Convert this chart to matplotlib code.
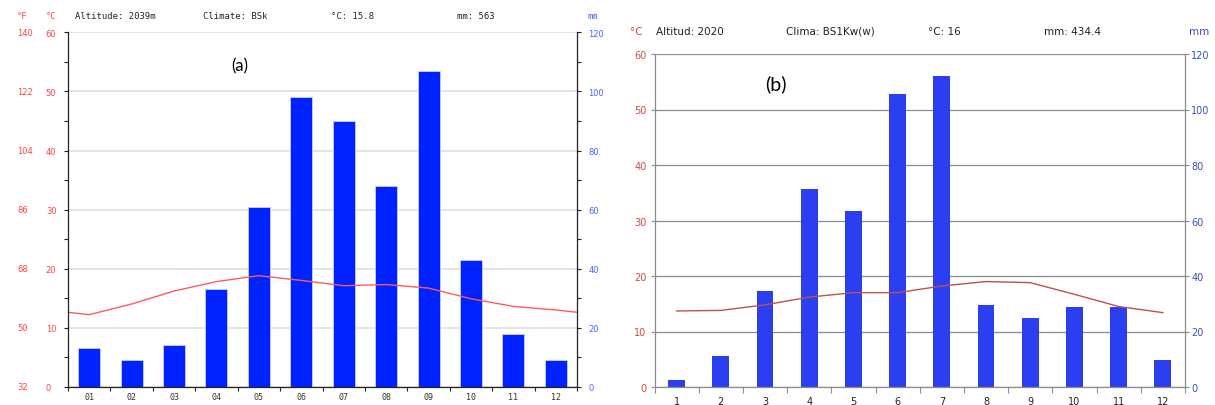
import numpy as np
import matplotlib.pyplot as plt
from matplotlib import transforms
from matplotlib.ticker import MultipleLocator

# Station (a): monthly precipitation (mm) and mean temperature (°C)
months_a = ['01', '02', '03', '04', '05', '06', '07', '08', '09', '10', '11', '12']
precip_a = [13, 9, 14, 33, 61, 98, 90, 68, 107, 43, 18, 9]
temp_a = [12.2, 14.0, 16.2, 17.8, 18.8, 18.0, 17.1, 17.3, 16.7, 14.9, 13.6, 13.0]
header_a = ['Altitude: 2039m', 'Climate: BSk', '°C: 15.8', 'mm: 563']

# Station (b)
months_b = ['1', '2', '3', '4', '5', '6', '7', '8', '9', '10', '11', '12']
precip_b = [2.4, 11, 34.5, 71.4, 63.3, 105.5, 111.9, 29.4, 25, 28.7, 28.7, 9.9]
temp_b = [13.7, 13.8, 14.8, 16.2, 17.0, 17.0, 18.2, 19.0, 18.8, 16.7, 14.5, 13.4]
header_b = ['Altitud: 2020', 'Clima: BS1Kw(w)', '°C: 16', 'mm: 434.4']

temp_ticks = [0, 10, 20, 30, 40, 50, 60]
precip_ticks = [0, 20, 40, 60, 80, 100, 120]

W, H = 1215, 406
fig = plt.figure(figsize=(W / 100, H / 100), dpi=100)
fig.patch.set_facecolor('white')


def box(x0, y0, x1, y1):
    # pixel box (top-left origin) -> figure fraction rect
    return [x0 / W, 1 - y1 / H, (x1 - x0) / W, (y1 - y0) / H]


def px_pt(p):
    return p * 72 / 100


# ---------------- panel (a) ----------------
ax = fig.add_axes(box(68, 33.4, 577, 387.7))
axp = ax.twinx()
ax.set_zorder(axp.get_zorder() + 1)
ax.patch.set_visible(False)

x = np.arange(12)
axp.bar(x, precip_a, width=0.52, color='#0022ff', edgecolor='#c8d0ff', linewidth=0.6, zorder=2)
axp.set_ylim(0, 120)
axp.set_yticks(precip_ticks)
axp.yaxis.set_minor_locator(MultipleLocator(10))
axp.grid(axis='y', which='major', color='#e2e2e2', lw=1.3, zorder=0)
axp.set_axisbelow(True)
axp.tick_params(axis='y', which='both', length=3, width=0.8, color='#222222',
                labelcolor='#4466ff', labelsize=6, pad=px_pt(7))

# line runs to the plot edges using the Dec/Jan mean
edge = (temp_a[0] + temp_a[-1]) / 2
ax.plot([-0.5] + list(x) + [11.5], [edge] + temp_a + [edge], color='#ff5a5a', lw=1.0)
ax.set_ylim(0, 60)
ax.set_xlim(-0.5, 11.5)
ax.set_yticks(temp_ticks)
ax.yaxis.set_minor_locator(MultipleLocator(5))
ax.tick_params(axis='y', which='both', length=3, width=0.8, color='#222222',
               labelcolor='#ff4444', labelsize=6, pad=px_pt(18))
for lab in ax.get_yticklabels():
    lab.set_horizontalalignment('left')
ax.set_xticks(x, months_a)
ax.set_xticks(np.arange(-0.5, 12, 1), minor=True)
ax.tick_params(axis='x', which='major', length=0, labelsize=6, labelcolor='#333333', pad=px_pt(5))
ax.tick_params(axis='x', which='minor', length=3, width=0.8, color='#222222')
for lab in ax.get_xticklabels():
    lab.set_family('DejaVu Sans Mono')

for a in (ax, axp):
    a.spines['top'].set_visible(False)
ax.spines['right'].set_visible(False)
axp.spines['left'].set_visible(False)
axp.spines['bottom'].set_visible(False)
for s in ('left', 'bottom'):
    ax.spines[s].set_color('#222222')
    ax.spines[s].set_linewidth(0.9)
axp.spines['right'].set_color('#222222')
axp.spines['right'].set_linewidth(0.9)

# Fahrenheit column
tf = transforms.blended_transform_factory(fig.transFigure, ax.transData)
for c in temp_ticks:
    ax.text(17 / W, c, f'{c * 9 / 5 + 32:.0f}', transform=tf, ha='left', va='center',
            color='#ff4444', fontsize=6, clip_on=False)

hy = 1 - 16.7 / H
mono = 'DejaVu Sans Mono'
fig.text(17 / W, hy, '°F', color='#ff4444', fontsize=6.2, family=mono, va='center')
fig.text(46 / W, hy, '°C', color='#ff4444', fontsize=6.2, family=mono, va='center')
for xp, s in zip([75, 203, 331, 457], header_a):
    fig.text(xp / W, hy, s, color='#222222', fontsize=6.4, family=mono, va='center')
fig.text(587 / W, hy, 'mm', color='#4466ff', fontsize=6.2, family=mono, va='center')
fig.text(240 / W, 1 - 66 / H, '(a)', ha='center', va='center', fontsize=12, family='Lato')

# ---------------- panel (b) ----------------
bx = fig.add_axes(box(654.5, 55, 1185, 388))
bxp = bx.twinx()
bx.set_zorder(bxp.get_zorder() + 1)
bx.patch.set_visible(False)

bxp.bar(x, precip_b, width=0.38, color='#2b3ef0', zorder=2)
bxp.set_ylim(0, 120)
bxp.set_yticks(precip_ticks)
bxp.grid(axis='y', color='#8c8c8c', lw=0.9, zorder=0)
bxp.set_axisbelow(True)
bxp.tick_params(axis='y', length=3, width=0.8, color='#8c8c8c',
                labelcolor='#3a50b0', labelsize=7, pad=px_pt(2))

bx.plot(x, temp_b, color='#c0504d', lw=1.0)
bx.set_ylim(0, 60)
bx.set_xlim(-0.5, 11.5)
bx.set_yticks(temp_ticks)
bx.tick_params(axis='y', length=3, width=0.8, color='#8c8c8c',
               labelcolor='#d04a44', labelsize=7, pad=px_pt(4))
bx.set_xticks(x, months_b)
bx.set_xticks(np.arange(-0.5, 12, 1), minor=True)
bx.tick_params(axis='x', which='major', length=0, labelsize=7, labelcolor='#222222', pad=px_pt(9))
bx.tick_params(axis='x', which='minor', length=4, width=0.8, color='#8c8c8c')

for a in (bx, bxp):
    a.spines['top'].set_visible(False)
bx.spines['right'].set_visible(False)
bxp.spines['left'].set_visible(False)
bxp.spines['bottom'].set_visible(False)
for s in ('left', 'bottom'):
    bx.spines[s].set_color('#8c8c8c')
    bx.spines[s].set_linewidth(0.9)
bxp.spines['right'].set_color('#8c8c8c')
bxp.spines['right'].set_linewidth(0.9)

hy2 = 1 - 32 / H
fig.text(630 / W, hy2, '°C', color='#d04a44', fontsize=7.5, va='center')
for xp, s in zip([656, 786, 928, 1044], header_b):
    fig.text(xp / W, hy2, s, color='#222222', fontsize=7.5, va='center')
fig.text(1189 / W, hy2, 'mm', color='#3a50b0', fontsize=7.5, va='center')
fig.text(776 / W, 1 - 84 / H, '(b)', ha='center', va='center', fontsize=14, family='Lato')

fig.savefig('out.png', dpi=100, facecolor='white')
